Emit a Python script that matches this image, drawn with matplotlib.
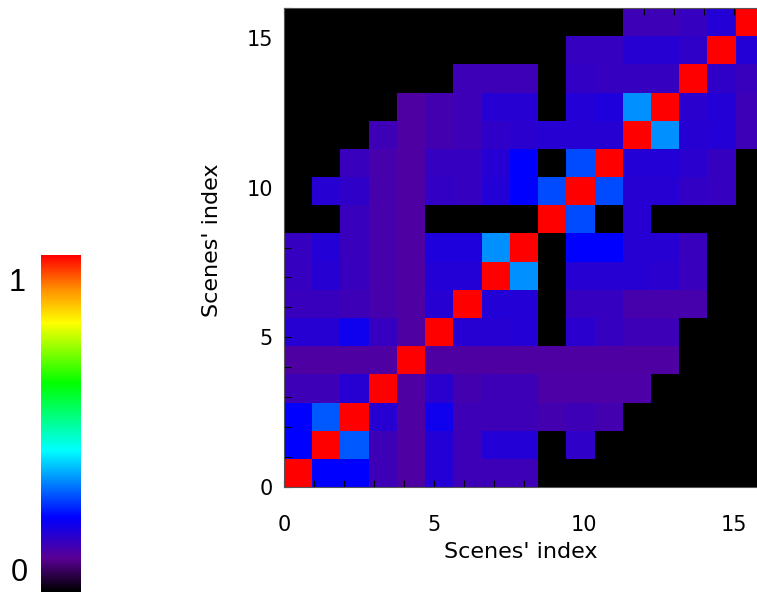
import numpy as np
import matplotlib
matplotlib.use('Agg')
import matplotlib.pyplot as plt
from matplotlib.colors import LinearSegmentedColormap

# Matriz de similitud entre escenas (fila = índice en y, de abajo hacia arriba)
sim_rows = [
    [1.0, .22, .22, .14, .115, .175, .14, .14, .14, 0, 0, 0, 0, 0, 0, 0, 0],
    [.22, 1.0, .29, .14, .115, .175, .14, .175, .175, 0, .16, 0, 0, 0, 0, 0, 0],
    [.22, .29, 1.0, .17, .115, .20, .14, .14, .14, .13, .14, .13, 0, 0, 0, 0, 0],
    [.14, .14, .17, 1.0, .115, .165, .13, .14, .14, .12, .12, .12, .12, 0, 0, 0, 0],
    [.115, .115, .115, .115, 1.0, .115, .115, .115, .115, .115, .115, .115, .115, .115, 0, 0, 0],
    [.17, .17, .20, .15, .115, 1.0, .17, .17, .175, 0, .165, .15, .14, .14, 0, 0, 0],
    [.145, .145, .14, .125, .115, .17, 1.0, .175, .175, 0, .15, .15, .125, .125, .125, 0, 0],
    [.15, .17, .145, .125, .115, .175, .175, 1.0, .335, 0, .17, .17, .17, .165, .145, 0, 0],
    [.15, .175, .145, .125, .115, .18, .18, .335, 1.0, 0, .22, .22, .17, .17, .145, 0, 0],
    [0, 0, .145, .125, .115, 0, 0, 0, 0, 1.0, .28, 0, .17, 0, 0, 0, 0],
    [0, .17, .16, .125, .115, .155, .15, .175, .22, .28, 1.0, .28, .17, .17, .155, .15, 0],
    [0, 0, .145, .125, .115, .15, .15, .17, .22, 0, .28, 1.0, .175, .175, .165, .15, 0],
    [0, 0, 0, .14, .115, .13, .14, .16, .165, .17, .17, .17, 1.0, .335, .17, .175, .14],
    [0, 0, 0, 0, .115, .13, .14, .17, .17, 0, .175, .18, .335, 1.0, .165, .175, .14],
    [0, 0, 0, 0, 0, 0, .14, .14, .14, 0, .155, .15, .15, .15, 1.0, .16, .145],
    [0, 0, 0, 0, 0, 0, 0, 0, 0, 0, .15, .15, .17, .17, .16, 1.0, .175],
    [0, 0, 0, 0, 0, 0, 0, 0, 0, 0, 0, 0, .14, .14, .15, .175, 1.0],
]
major_ticks = [0, 5, 10, 15]
axis_label = "Scenes' index"
cbar_labels = ['0', '1']

data = np.array(sim_rows)

# Paleta tipo "rainbow" de IDL (negro -> morado -> azul -> cian -> verde -> amarillo -> rojo)
cmap = LinearSegmentedColormap.from_list('idl_rainbow', [
    (0.00, '#000000'),
    (0.10, '#5a0096'),
    (0.22, '#0000ff'),
    (0.42, '#00ffff'),
    (0.62, '#00ff00'),
    (0.80, '#ffff00'),
    (0.90, '#ff9000'),
    (1.00, '#ff0000'),
])

W, H = 757, 593
fig = plt.figure(figsize=(W / 100, H / 100), dpi=100)

# --- mapa de calor (el eje se sale por la derecha, como en el original) ---
ax = fig.add_axes([284 / W, 106 / H, 480 / W, 479 / H])
ax.imshow(data, cmap=cmap, vmin=0, vmax=1, origin='lower',
          extent=(0, 16, 0, 16), aspect='auto', interpolation='nearest')
ax.set_xlim(0, 16)
ax.set_ylim(0, 16)
ax.set_xticks(major_ticks)
ax.set_yticks(major_ticks)
ax.set_xticks(range(17), minor=True)
ax.set_yticks(range(17), minor=True)
ax.tick_params(which='both', direction='in', top=True, right=True,
               length=5, width=0.8, color='black')
ax.tick_params(axis='x', which='major', labelsize=15, pad=20)
ax.tick_params(axis='y', which='major', labelsize=15, pad=8)
for s in ax.spines.values():
    s.set_linewidth(0.8)
    s.set_color('#555555')

fig.text(521 / W, 1 - 552 / H, axis_label, fontsize=16, ha='center', va='center')
fig.text(212 / W, 1 - 240 / H, axis_label, fontsize=16, ha='center', va='center',
         rotation=90)

# --- barra de color ---
cax = fig.add_axes([41 / W, 1 / H, 40 / W, 337 / H])
grad = np.linspace(0, 1, 256).reshape(-1, 1)
cax.imshow(grad, cmap=cmap, vmin=0, vmax=1, origin='lower', aspect='auto',
           extent=(0, 1, 0, 1))
cax.axis('off')
fig.text(19 / W, 1 - 573 / H, cbar_labels[0], fontsize=22, ha='center', va='center',
         family='Liberation Sans')
fig.text(17 / W, 1 - 283 / H, cbar_labels[1], fontsize=22, ha='center', va='center',
         family='Liberation Sans')

fig.savefig('out.png', dpi=100)
